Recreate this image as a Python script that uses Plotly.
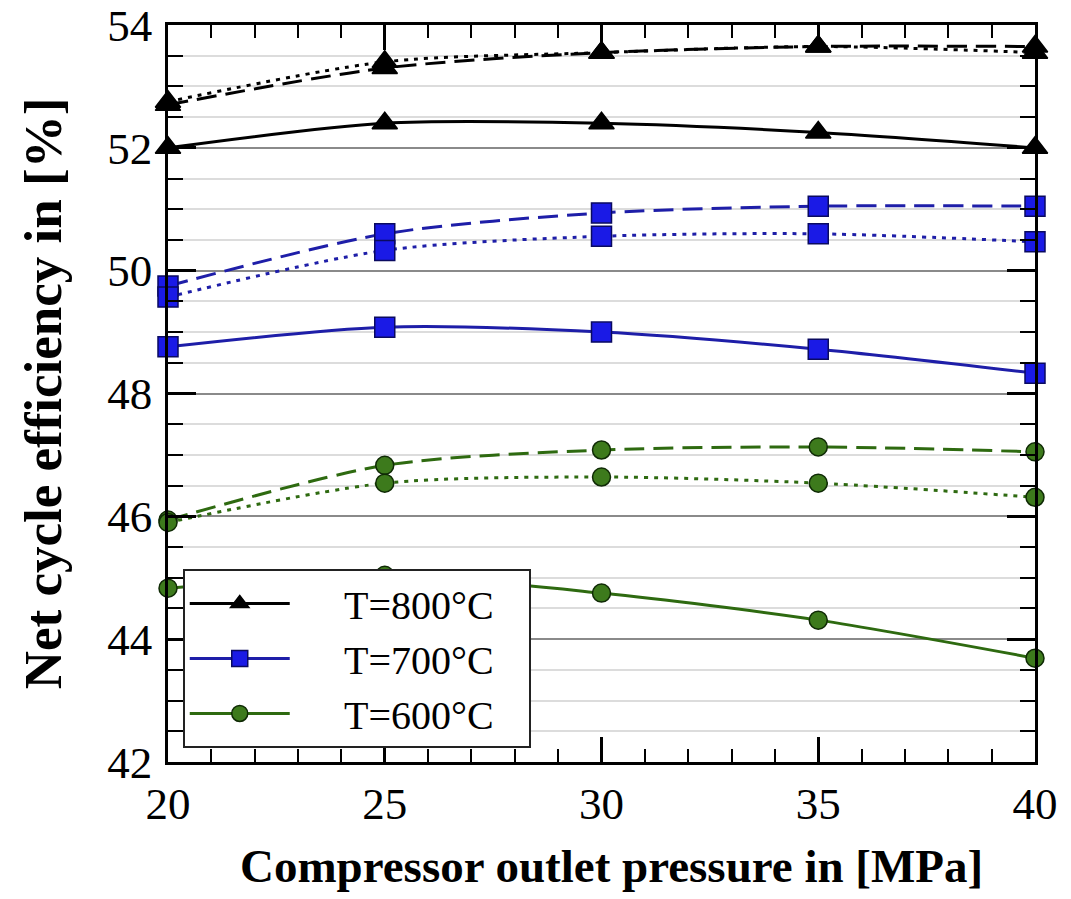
import plotly.graph_objects as go

pressure = [20, 25, 30, 35, 40]

eff_800_solid = [52.0, 52.4, 52.4, 52.25, 52.0]
eff_800_dash = [52.7, 53.3, 53.55, 53.65, 53.65]
eff_800_dot = [52.75, 53.4, 53.55, 53.65, 53.55]

eff_700_solid = [48.76, 49.08, 49.0, 48.72, 48.33]
eff_700_dash = [49.75, 50.6, 50.94, 51.05, 51.05]
eff_700_dot = [49.57, 50.33, 50.56, 50.6, 50.47]

eff_600_solid = [44.83, 45.04, 44.75, 44.31, 43.69]
eff_600_dash = [45.94, 46.83, 47.08, 47.13, 47.05]
eff_600_dot = [45.9, 46.54, 46.64, 46.54, 46.31]

x_title = "Compressor outlet pressure in [MPa]"
y_title = "Net cycle efficiency in [%]"

series = [
    ("T=800°C", eff_800_solid, eff_800_dash, eff_800_dot, "black", "black", "black", "triangle-up", 22),
    ("T=700°C", eff_700_solid, eff_700_dash, eff_700_dot, "#1e1ea8", "#1a1ae6", "#0a0a60", "square", 20),
    ("T=600°C", eff_600_solid, eff_600_dash, eff_600_dot, "#2e6a10", "#3d7a1c", "#0f2a05", "circle", 18),
]

fig = go.Figure()
for name, solid, dash, dot, lc, mfill, medge, sym, ms in series:
    for vals, d, show in ((dash, "20px,9px", False), (dot, "4px,6px", False), (solid, "solid", True)):
        fig.add_trace(go.Scatter(
            x=pressure, y=vals, mode="lines+markers",
            name="     " + name + "   ", showlegend=show,
            line=dict(color=lc, width=3, dash=d, shape="spline", smoothing=0.8),
            marker=dict(symbol=sym, size=ms, color=mfill,
                        line=dict(color=medge, width=1.5)),
            cliponaxis=False,
        ))

font_serif = "Liberation Serif, Times New Roman, serif"

fig.update_layout(
    width=1071, height=899,
    margin=dict(l=168, r=36, t=25, b=137),
    paper_bgcolor="white", plot_bgcolor="white",
    font=dict(family=font_serif, color="black", size=40),
    legend=dict(
        x=0.017, y=0.019, xanchor="left", yanchor="bottom",
        bgcolor="white", bordercolor="#222", borderwidth=2,
        font=dict(family=font_serif, size=40, color="black"),
        itemwidth=100, tracegroupgap=0,
    ),
    xaxis=dict(
        range=[20, 40], dtick=5, tick0=20, automargin=False,
        showgrid=False, zeroline=False,
        showline=True, linecolor="black", linewidth=2.5, mirror="allticks",
        ticks="inside", ticklen=25, tickwidth=2.5, tickcolor="black",
        ticklabeloverflow="allow",
        minor=dict(dtick=1, ticks="inside", ticklen=13, tickwidth=2, tickcolor="black", showgrid=False),
        tickfont=dict(family=font_serif, size=45, color="black"),
    ),
    yaxis=dict(
        range=[42, 54], dtick=2, tick0=42, automargin=False,
        showgrid=True, gridcolor="#8a8a8a", gridwidth=2,
        zeroline=False,
        showline=True, linecolor="black", linewidth=2.5, mirror="allticks",
        ticks="inside", ticklen=28, tickwidth=2.5, tickcolor="black",
        ticklabelstandoff=4, ticklabeloverflow="allow",
        minor=dict(dtick=0.5, ticks="inside", ticklen=15, tickwidth=2, tickcolor="black",
                   showgrid=True, gridcolor="#dcdcdc", gridwidth=1.5),
        tickfont=dict(family=font_serif, size=45, color="black"),
        title=dict(text="<b>" + y_title + "</b>",
                   font=dict(family=font_serif, size=53, color="black"), standoff=29),
    ),
    annotations=[dict(
        text="<b>" + x_title + "</b>", xref="paper", yref="paper",
        x=0.5, y=-0.141, xanchor="center", yanchor="middle", xshift=10,
        showarrow=False, font=dict(family=font_serif, size=47, color="black"),
    )],
)

fig.write_html("out.html", config={"displayModeBar": False},
               post_script="document.body.style.margin='0px';")
